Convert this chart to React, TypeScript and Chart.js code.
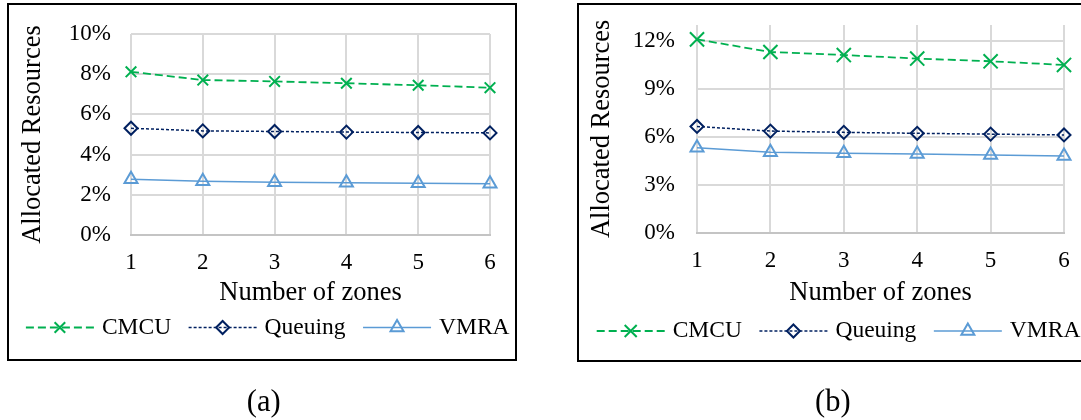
import React, { useEffect, useRef } from 'react';
import { Chart, registerables } from 'chart.js';

Chart.register(...registerables);

// ---------------- data ----------------
const zones = ['1', '2', '3', '4', '5', '6'];
const seriesNames = ['CMCU', 'Queuing', 'VMRA'];

const cmcuA = [8.12, 7.71, 7.64, 7.55, 7.45, 7.33];
const queuingA = [5.31, 5.18, 5.15, 5.12, 5.1, 5.08];
const vmraA = [2.77, 2.67, 2.63, 2.6, 2.57, 2.55];

const cmcuB = [12.1, 11.31, 11.12, 10.9, 10.73, 10.5];
const queuingB = [6.65, 6.36, 6.28, 6.22, 6.17, 6.12];
const vmraB = [5.31, 5.04, 4.98, 4.92, 4.87, 4.8];

const yTicksA = [0, 2, 4, 6, 8, 10];
const yTicksB = [0, 3, 6, 9, 12];
const yMaxA = 10;
const yMaxB = 13;

const xTitle = 'Number of zones';
const yTitle = 'Allocated Resources';
const panelLabels = ['(a)', '(b)'];

// ---------------- styles ----------------
const FONT = '"Liberation Serif", "Times New Roman", serif';
const GREEN = '#00B050';
const NAVY = '#002060';
const LIGHTBLUE = '#5B9BD5';
const GRID = '#D9D9D9';
const AXIS = '#C4C4C4';

Chart.defaults.font.family = FONT;

function drawMarker(ctx: CanvasRenderingContext2D, style: string, x: number, y: number, r: number, color: string, lw: number) {
  ctx.save();
  ctx.beginPath();
  ctx.setLineDash([]);
  ctx.strokeStyle = color;
  ctx.lineWidth = lw;
  if (style === 'crossRot') {
    const o = r * Math.SQRT1_2;
    ctx.moveTo(x - o, y - o);
    ctx.lineTo(x + o, y + o);
    ctx.moveTo(x - o, y + o);
    ctx.lineTo(x + o, y - o);
  } else if (style === 'rectRot') {
    ctx.moveTo(x - r, y);
    ctx.lineTo(x, y - r);
    ctx.lineTo(x + r, y);
    ctx.lineTo(x, y + r);
    ctx.closePath();
  } else if (style === 'triangle') {
    let a = 0;
    ctx.moveTo(x + Math.sin(a) * r, y - Math.cos(a) * r);
    a += (2 * Math.PI) / 3;
    ctx.lineTo(x + Math.sin(a) * r, y - Math.cos(a) * r);
    a += (2 * Math.PI) / 3;
    ctx.lineTo(x + Math.sin(a) * r, y - Math.cos(a) * r);
    ctx.closePath();
  }
  ctx.stroke();
  ctx.restore();
}

const excelLegend = {
  id: 'excelLegend',
  afterDraw(chart: any, _args: any, opts: any) {
    const ctx: CanvasRenderingContext2D = chart.ctx;
    ctx.save();
    ctx.font = `${opts.fontSize}px ${FONT}`;
    let x = opts.x;
    const y = opts.y;
    chart.data.datasets.forEach((ds: any, i: number) => {
      ctx.beginPath();
      ctx.setLineDash(ds.borderDash || []);
      ctx.strokeStyle = ds.borderColor;
      ctx.lineWidth = ds.borderWidth;
      ctx.moveTo(x, y);
      ctx.lineTo(x + opts.lineLen, y);
      ctx.stroke();
      ctx.setLineDash([]);
      const r = opts.radii[i];
      drawMarker(ctx, ds.pointStyle, x + opts.lineLen / 2, y, r, ds.pointBorderColor, ds.pointBorderWidth);
      ctx.fillStyle = '#000';
      ctx.textBaseline = 'middle';
      ctx.textAlign = 'left';
      const tx = x + opts.lineLen + opts.gap;
      ctx.fillText(ds.label, tx, y);
      x = tx + ctx.measureText(ds.label).width + opts.spacing;
    });
    ctx.restore();
  },
};

function makeConfig(p: any) {
  const tickFont = { size: 23, family: FONT };
  const titleFont = { size: 26.5, family: FONT };
  return {
    type: 'line',
    data: {
      labels: zones,
      datasets: [
        {
          label: seriesNames[0],
          data: p.cmcu,
          borderColor: GREEN,
          borderWidth: 1.8,
          borderDash: [8, 4],
          pointStyle: 'crossRot',
          pointRadius: p.crossR,
          pointBorderWidth: 2,
          pointBorderColor: GREEN,
          pointBackgroundColor: 'rgba(0,0,0,0)',
          fill: false,
          tension: 0,
          clip: false,
        },
        {
          label: seriesNames[1],
          data: p.queuing,
          borderColor: NAVY,
          borderWidth: 1.5,
          borderDash: [3, 2],
          pointStyle: 'rectRot',
          pointRadius: 6.5,
          pointBorderWidth: 2,
          pointBorderColor: NAVY,
          pointBackgroundColor: 'rgba(0,0,0,0)',
          fill: false,
          tension: 0,
          clip: false,
        },
        {
          label: seriesNames[2],
          data: p.vmra,
          borderColor: LIGHTBLUE,
          borderWidth: 1.5,
          pointStyle: 'triangle',
          pointRadius: 7.5,
          pointBorderWidth: 2,
          pointBorderColor: LIGHTBLUE,
          pointBackgroundColor: 'rgba(0,0,0,0)',
          fill: false,
          tension: 0,
          clip: false,
        },
      ],
    },
    options: {
      responsive: false,
      animation: false,
      devicePixelRatio: 1,
      layout: { padding: p.padding },
      plugins: {
        legend: { display: false },
        tooltip: { enabled: false },
        excelLegend: {
          x: p.legendX,
          y: p.legendY,
          lineLen: 68,
          gap: 8,
          spacing: 17.5,
          fontSize: 23.5,
          radii: [p.legendCrossR, 6.5, 7.5],
        },
      },
      scales: {
        x: {
          type: 'category',
          offset: false,
          grid: { color: GRID, lineWidth: 2, drawTicks: false, offset: false },
          border: { display: true, color: AXIS, width: 2 },
          ticks: { color: '#000', font: tickFont, padding: p.xTickPad, maxRotation: 0, autoSkip: false },
          title: { display: true, text: xTitle, color: '#000', font: titleFont, padding: { top: 0, bottom: 0 } },
          afterFit: (s: any) => {
            s.height = p.xHeight;
            s.paddingLeft = 0;
            s.paddingRight = 0;
          },
        },
        y: {
          type: 'linear',
          min: 0,
          max: p.yMax,
          bounds: 'data',
          grid: { color: GRID, lineWidth: 2, drawTicks: false },
          border: { display: false },
          ticks: {
            color: '#000',
            font: tickFont,
            padding: p.yTickPad,
            includeBounds: false,
            callback: (v: any) => `${v}%`,
          },
          afterBuildTicks: (s: any) => {
            s.ticks = p.yTicks.map((v: number) => ({ value: v }));
          },
          title: { display: true, text: yTitle, color: '#000', font: titleFont, padding: { top: 0, bottom: 0 } },
          afterFit: (s: any) => {
            s.width = p.yWidth;
            s.paddingTop = 0;
            s.paddingBottom = 0;
          },
        },
      },
    },
    plugins: [excelLegend],
  };
}

function LineChart({ params, left, width }: { params: any; left: number; width: number }) {
  const ref = useRef<HTMLCanvasElement | null>(null);
  useEffect(() => {
    if (!ref.current) return;
    const chart = new Chart(ref.current, makeConfig(params) as any);
    return () => chart.destroy();
  }, []);
  return (
    <canvas
      ref={ref}
      width={width}
      height={420}
      style={{ position: 'absolute', left, top: 0, width, height: 420 }}
    />
  );
}

const paramsA = {
  cmcu: cmcuA,
  queuing: queuingA,
  vmra: vmraA,
  yTicks: yTicksA,
  yMax: yMaxA,
  crossR: 7.5,
  legendCrossR: 7.5,
  padding: { left: 17.5, top: 34, right: 55, bottom: 110.8 },
  yWidth: 113.5,
  xHeight: 74.2,
  xTickPad: 14.5,
  yTickPad: 20,
  legendX: 25.9,
  legendY: 327.5,
};

const paramsB = {
  cmcu: cmcuB,
  queuing: queuingB,
  vmra: vmraB,
  yTicks: yTicksB,
  yMax: yMaxB,
  crossR: 10,
  legendCrossR: 8.5,
  padding: { left: 41.1, top: 25, right: 17, bottom: 110.8 },
  yWidth: 110.9,
  xHeight: 76.5,
  xTickPad: 14.8,
  yTickPad: 22,
  legendX: 51.7,
  legendY: 331,
};

export default function App() {
  const labelStyle: React.CSSProperties = {
    position: 'absolute',
    top: 385.5,
    width: 100,
    textAlign: 'center',
    fontFamily: FONT,
    fontSize: 30.5,
    lineHeight: 1,
    color: '#000',
  };
  return (
    <div
      style={{
        position: 'fixed',
        left: 0,
        top: 0,
        width: 1081,
        height: 420,
        overflow: 'hidden',
        background: '#fff',
      }}
    >
      <div
        style={{
          position: 'absolute',
          left: 7,
          top: 3,
          width: 510,
          height: 358,
          boxSizing: 'border-box',
          border: '2px solid #000',
        }}
      />
      <div
        style={{
          position: 'absolute',
          left: 577,
          top: 3,
          width: 530,
          height: 359,
          boxSizing: 'border-box',
          border: '2px solid #000',
        }}
      />
      <LineChart params={paramsA} left={0} width={545} />
      <LineChart params={paramsB} left={545} width={536} />
      <div style={{ ...labelStyle, left: 263.8 - 50 }}>{panelLabels[0]}</div>
      <div style={{ ...labelStyle, left: 832.8 - 50 }}>{panelLabels[1]}</div>
    </div>
  );
}
